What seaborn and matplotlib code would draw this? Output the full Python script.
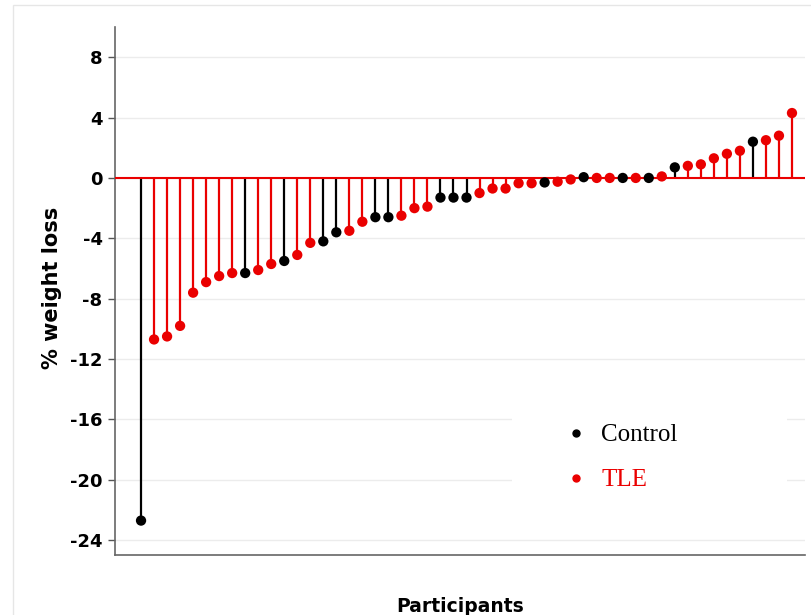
import pandas as pd
import matplotlib.pyplot as plt
import seaborn as sns
from matplotlib.lines import Line2D
from matplotlib.patches import Rectangle

# values, participants sorted by % weight loss
weight_loss = [-22.7, -10.7, -10.5, -9.8, -7.6, -6.9, -6.5, -6.3, -6.3, -6.1,
               -5.7, -5.5, -5.1, -4.3, -4.2, -3.6, -3.5, -2.9, -2.6, -2.6,
               -2.5, -2.0, -1.9, -1.3, -1.3, -1.3, -1.0, -0.7, -0.7, -0.35,
               -0.35, -0.3, -0.25, -0.1, 0.05, 0.0, 0.0, 0.0, 0.0, 0.0,
               0.1, 0.7, 0.8, 0.9, 1.3, 1.6, 1.8, 2.4, 2.5, 2.8, 4.3]
group_codes = "CTTTTTTTCTTCTTCCTTCCTTTCCCTTTTTCTTCTTCTCTCTTTTTCTTT"
group_names = {"C": "Control", "T": "TLE"}
y_ticks = [8, 4, 0, -4, -8, -12, -16, -20, -24]

RED = "#ea0000"
palette = {"Control": "black", "TLE": RED}

df = pd.DataFrame({
    "participant": range(len(weight_loss)),
    "loss": weight_loss,
    "group": [group_names[c] for c in group_codes],
})

sns.set_theme(style="whitegrid")
plt.rcParams["font.family"] = ["DejaVu Sans"]
plt.rcParams["axes.unicode_minus"] = False

fig = plt.figure(figsize=(8.11, 6.15), dpi=100)
fig.patches.append(Rectangle((13 / 811, -0.05), 1.0, 1.05 - 5 / 615,
                             transform=fig.transFigure, fill=False,
                             edgecolor="#e6e6e6", lw=1))
ax = fig.add_axes([115 / 811, 1 - 555.3 / 615, 690 / 811, 528.3 / 615])

# stems
ax.vlines(df["participant"], 0, df["loss"],
          colors=df["group"].map(palette), lw=1.6, zorder=2)
ax.axhline(0, color=RED, lw=1.5, zorder=3)
# heads
sns.scatterplot(data=df, x="participant", y="loss", hue="group",
                palette=palette, s=55, linewidth=0, legend=False,
                ax=ax, zorder=4)

ax.set_xlim(-2, 51)
ax.set_ylim(-25, 10)
ax.set_xticks([])
ax.set_yticks(y_ticks)
ax.tick_params(axis="y", left=True, length=5, width=1, color="#555555",
               pad=4, labelsize=13, labelcolor="black")
for lab in ax.get_yticklabels():
    lab.set_fontweight("bold")

ax.grid(axis="y", color="#ececec", lw=1)
ax.grid(axis="x", visible=False)
for side in ["top", "right"]:
    ax.spines[side].set_visible(False)
for side in ["left", "bottom"]:
    ax.spines[side].set_color("#666666")
    ax.spines[side].set_linewidth(1.2)

ax.set_ylabel("% weight loss", fontsize=15, fontweight="bold", color="black")
ax.yaxis.set_label_coords(-0.077, 0.506)
ax.set_xlabel("Participants", fontsize=13.5, fontweight="bold", color="black")
ax.xaxis.set_label_coords(0.5, -0.078)
ax.xaxis.label.set_va("top")

# white panel behind the legend hides the grid lines
ax.add_patch(Rectangle(((512 - 115) / 690, (555.3 - 520) / 528.3),
                       (787 - 512) / 690, (520 - 390) / 528.3,
                       transform=ax.transAxes, facecolor="white",
                       edgecolor="none", zorder=1.5))

handles = [Line2D([], [], ls="", marker="o", ms=5, color=palette[g])
           for g in ["Control", "TLE"]]
leg = ax.legend(handles, ["Control", "TLE"], loc="center left",
                bbox_to_anchor=(0.65, 0.185), frameon=False,
                borderpad=0, borderaxespad=0, handlelength=1,
                handletextpad=0.5, labelspacing=0.9,
                prop={"family": "Liberation Serif", "size": 18})
for txt, g in zip(leg.get_texts(), ["Control", "TLE"]):
    txt.set_color(palette[g])

fig.savefig("out.png", dpi=100)
